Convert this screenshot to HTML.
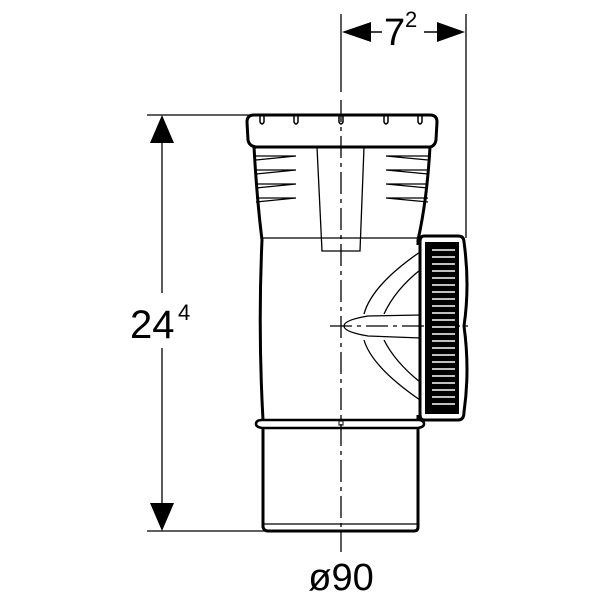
<!DOCTYPE html>
<html><head><style>html,body{margin:0;padding:0;background:#fff}svg{display:block}</style></head>
<body>
<svg width="600" height="600" viewBox="0 0 600 600" xmlns="http://www.w3.org/2000/svg" font-family="Liberation Sans, sans-serif">
<g stroke="#000" fill="none">
<line x1="341" y1="14" x2="341" y2="92" stroke-width="1.3"/>
<line x1="466" y1="14" x2="466" y2="238" stroke-width="1.3"/>
<line x1="370" y1="32" x2="382" y2="32" stroke-width="1.5"/>
<line x1="424" y1="32" x2="437" y2="32" stroke-width="1.5"/>
<line x1="147" y1="115" x2="250" y2="115" stroke-width="1.3"/>
<line x1="147" y1="531" x2="265" y2="531" stroke-width="1.3"/>
<line x1="162" y1="142" x2="162" y2="293" stroke-width="1.3"/>
<line x1="162" y1="348" x2="162" y2="504" stroke-width="1.3"/>
<line x1="341" y1="100" x2="341" y2="552" stroke-width="1.3" stroke-dasharray="22,5,4,5"/>
<line x1="330" y1="326" x2="468" y2="326" stroke-width="1.3" stroke-dasharray="22,5,4,5"/>
<path d="M254,115 H430 Q437,115 437,122 L436,140 Q435,146 430,147 H256 Q249,146 248,140 L247,122 Q247,115 254,115 Z" stroke-width="3"/>
<g stroke-width="1.5">
<path d="M260,116 v6 q2,4 4,0 v-6"/><path d="M294,116 v6 q2,4 4,0 v-6"/><path d="M339,116 v6 q2,4 4,0 v-6"/><path d="M384,116 v6 q2,4 4,0 v-6"/><path d="M418,116 v6 q2,4 4,0 v-6"/>
</g>
<path d="M254,147 Q257,200 262,240 Q258,330 263,420" stroke-width="3"/>
<path d="M430,147 Q427,200 418,240 L418,245" stroke-width="3"/>
<path d="M418,415 L418,420" stroke-width="3"/>
<g stroke-width="1.3">
<path d="M256,156 H296 L256,160"/><path d="M256,170 H296 L256,174"/><path d="M256,184 H296 L256,188"/><path d="M256,198 H296 L256,202"/>
<path d="M428,156 H386 L428,160"/><path d="M428,170 H386 L428,174"/><path d="M428,184 H386 L428,188"/><path d="M428,198 H386 L428,202"/>
<path d="M317,147 L322,251 H360 L364,147"/>
<line x1="262" y1="238" x2="420" y2="238"/>
</g>
<path d="M262,420 H418 Q424,420 424,424 Q424,427 418,428 H262 Q256,427 256,424 Q256,420 262,420 Z" stroke-width="2.5"/>
<rect x="339" y="421" width="4" height="4" stroke-width="1"/>
<path d="M263,428 V527 Q264,531 268,531 H414 Q418,531 418,527 V428" stroke-width="3"/>
<line x1="263" y1="524" x2="418" y2="524" stroke-width="1.3"/>
<g stroke-width="1.3">
<path d="M420,252 Q372,285 364,314"/><path d="M420,270 Q395,290 384,314"/>
<path d="M420,400 Q372,367 364,340"/><path d="M420,382 Q395,362 384,340"/>
<path d="M421,315 L368,316 Q344,320 344,326 Q344,332 368,336 L421,338"/>
</g>
<path d="M424,236 H458 Q464,236 464,242 Q470,285 464,326 Q470,370 464,412 Q464,420 458,420 H424 Q420,420 420,414 V242 Q420,236 424,236 Z" stroke-width="3"/>
<rect x="425" y="242" width="34" height="172" fill="#000" stroke="none"/>
<g stroke="#fff" stroke-width="1.6">
<line x1="432" y1="250" x2="455" y2="250"/><line x1="432" y1="257" x2="455" y2="257"/><line x1="432" y1="264" x2="455" y2="264"/><line x1="432" y1="271" x2="455" y2="271"/><line x1="432" y1="278" x2="455" y2="278"/><line x1="432" y1="285" x2="455" y2="285"/><line x1="432" y1="292" x2="455" y2="292"/><line x1="432" y1="299" x2="455" y2="299"/><line x1="432" y1="306" x2="455" y2="306"/><line x1="432" y1="313" x2="455" y2="313"/><line x1="432" y1="320" x2="455" y2="320"/><line x1="432" y1="327" x2="455" y2="327"/><line x1="432" y1="334" x2="455" y2="334"/><line x1="432" y1="341" x2="455" y2="341"/><line x1="432" y1="348" x2="455" y2="348"/><line x1="432" y1="355" x2="455" y2="355"/><line x1="432" y1="362" x2="455" y2="362"/><line x1="432" y1="369" x2="455" y2="369"/><line x1="432" y1="376" x2="455" y2="376"/><line x1="432" y1="383" x2="455" y2="383"/><line x1="432" y1="390" x2="455" y2="390"/><line x1="432" y1="397" x2="455" y2="397"/><line x1="432" y1="404" x2="455" y2="404"/>
</g>
</g>
<g fill="#000">
<polygon points="342,32 371,22 371,42"/>
<polygon points="465,32 437,22 437,42"/>
<polygon points="162,115 150,143 174,143"/>
<polygon points="162,531 150,503 174,503"/>
</g>
<g fill="#000">
<text x="384" y="45" font-size="38">7</text>
<text x="405" y="27" font-size="22">2</text>
<text x="130" y="338" font-size="40">24</text>
<text x="178" y="320" font-size="22">4</text>
<text x="341" y="590" font-size="38" text-anchor="middle">ø90</text>
</g>
</svg>
</body></html>
